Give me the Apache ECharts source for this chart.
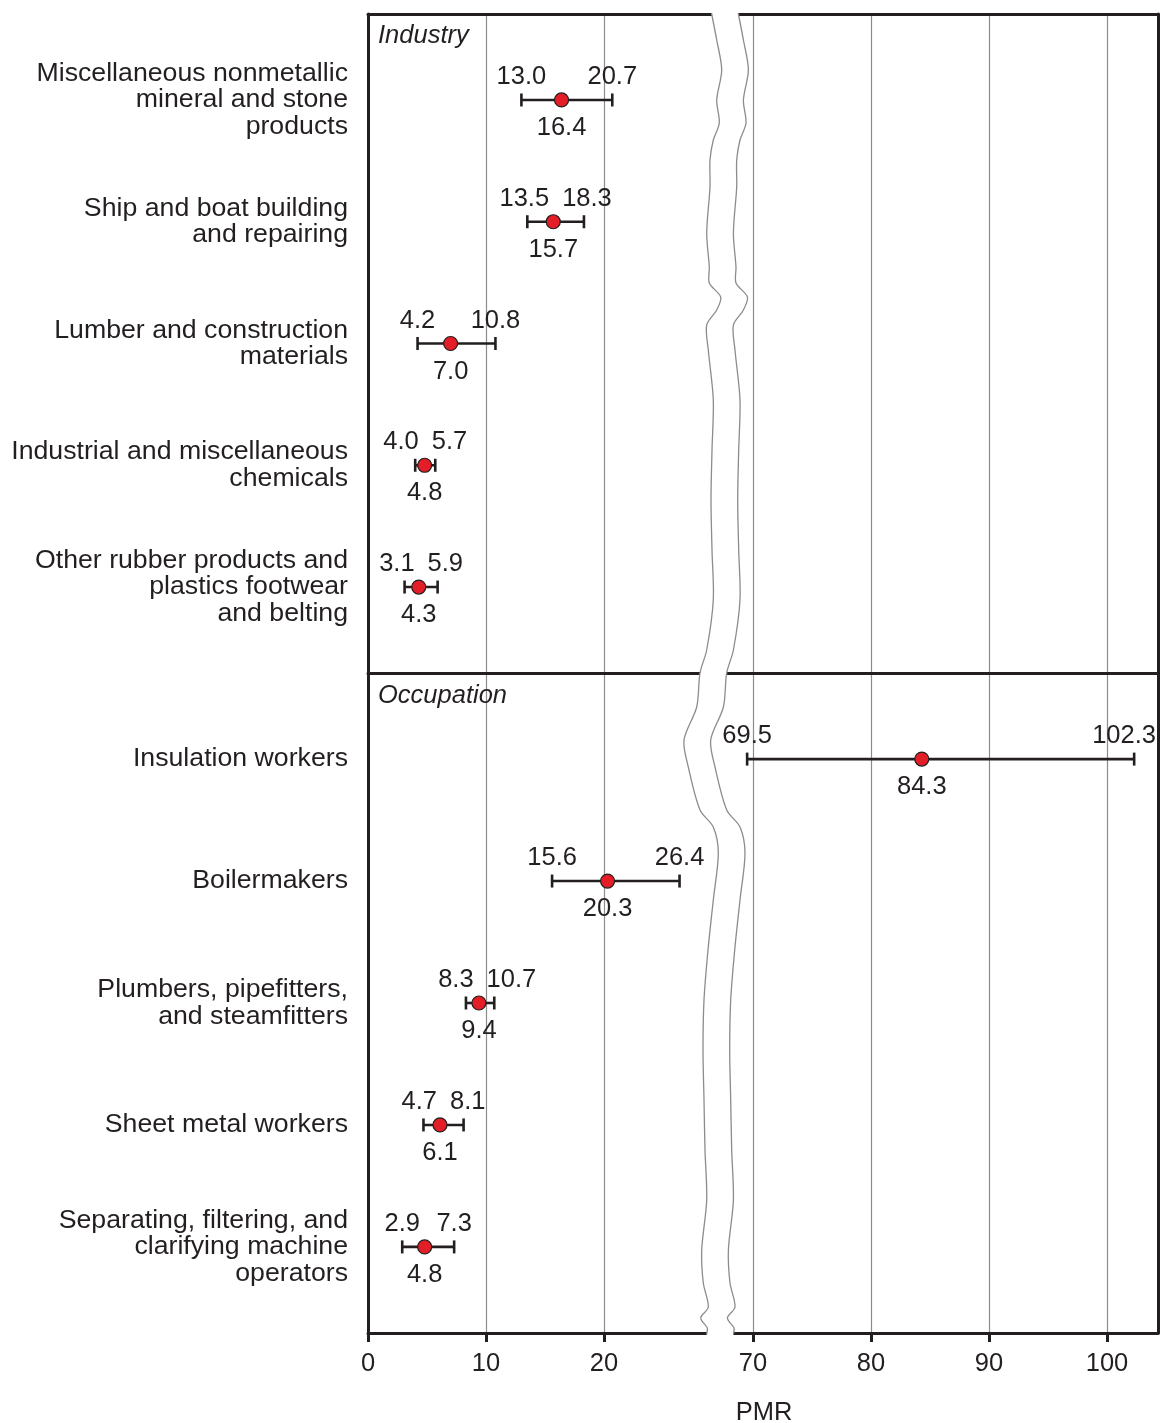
<!DOCTYPE html>
<html><head><meta charset="utf-8">
<script src="https://cdn.jsdelivr.net/npm/echarts@6/dist/echarts.min.js"></script>
<style>html,body{margin:0;padding:0;background:#fff}#chart{width:1160px;height:1423px}</style>
</head><body><div id="chart"></div>
<script>
// ---------------- data ----------------
const industryNames = [
  'Miscellaneous nonmetallic\nmineral and stone\nproducts',
  'Ship and boat building\nand repairing',
  'Lumber and construction\nmaterials',
  'Industrial and miscellaneous\nchemicals',
  'Other rubber products and\nplastics footwear\nand belting'
];
const industryPMR   = [16.4, 15.7, 7.0, 4.8, 4.3];
const industryLower = [13.0, 13.5, 4.2, 4.0, 3.1];
const industryUpper = [20.7, 18.3, 10.8, 5.7, 5.9];

const occupationNames = [
  'Insulation workers',
  'Boilermakers',
  'Plumbers, pipefitters,\nand steamfitters',
  'Sheet metal workers',
  'Separating, filtering, and\nclarifying machine\noperators'
];
const occupationPMR   = [84.3, 20.3, 9.4, 6.1, 4.8];
const occupationLower = [69.5, 15.6, 8.3, 4.7, 2.9];
const occupationUpper = [102.3, 26.4, 10.7, 8.1, 7.3];

const sectionTitles = ['Industry', 'Occupation'];
const leftTicks  = [0, 10, 20];
const rightTicks = [70, 80, 90, 100];
const axisTitle = 'PMR';

// ---------------- layout / style ----------------
const FONT = '"Liberation Sans", Arial, Helvetica, sans-serif';
const INK = '#231f20';
const RED = '#e41e26';
const LEFT_RANGE  = [0, 29.49];
const RIGHT_RANGE = [67.2, 104.32];
const ROW_RANGE   = [-0.706, 4.706];

const measureCtx = document.createElement('canvas').getContext('2d');
function textWidth(t, size) { measureCtx.font = size + 'px ' + FONT; return measureCtx.measureText(t).width; }

function makeRows(pmr, lo, hi) { return pmr.map((v, i) => [i, v, lo[i], hi[i]]); }
const industryRows = makeRows(industryPMR, industryLower, industryUpper);
const occupationRows = makeRows(occupationPMR, occupationLower, occupationUpper);

function renderCI(params, api) {
  const row = api.value(0), est = api.value(1), lo = api.value(2), hi = api.value(3);
  const cs = params.coordSys;
  const a = api.coord([lo, row]), b = api.coord([hi, row]), c = api.coord([est, row]);
  if (a[0] < cs.x - 1 || b[0] > cs.x + cs.width + 1) return {type: 'group', children: []};
  const fs = 25.5, cap = 6.5, G = 13;
  const loT = lo.toFixed(1), hiT = hi.toFixed(1), estT = est.toFixed(1);
  const wLo = textWidth(loT, fs), wHi = textWidth(hiT, fs);
  let loX = a[0], loAlign = 'center', hiX = b[0], hiAlign = 'center';
  if (a[0] + wLo / 2 + G > b[0] - wHi / 2) {
    const mid = (a[0] + b[0]) / 2;
    loX = mid - G / 2; loAlign = 'right';
    hiX = mid + G / 2; hiAlign = 'left';
  }
  const rightLimit = cs.x + cs.width - 2;
  if (hiAlign === 'center' && hiX + wHi / 2 > rightLimit) { hiX = rightLimit; hiAlign = 'right'; }
  const y = a[1];
  const ls = {stroke: INK, lineWidth: 2.6};
  const ts = (text, align) => ({text, fill: INK, fontSize: fs, fontFamily: FONT, align, verticalAlign: 'middle'});
  return {
    type: 'group',
    children: [
      {type: 'line', shape: {x1: a[0], y1: y, x2: b[0], y2: y}, style: ls},
      {type: 'line', shape: {x1: a[0], y1: y - cap, x2: a[0], y2: y + cap}, style: ls},
      {type: 'line', shape: {x1: b[0], y1: y - cap, x2: b[0], y2: y + cap}, style: ls},
      {type: 'circle', shape: {cx: c[0], cy: y, r: 7}, style: {fill: RED, stroke: INK, lineWidth: 1.2}},
      {type: 'text', x: loX, y: y - 23, style: ts(loT, loAlign)},
      {type: 'text', x: hiX, y: y - 23, style: ts(hiT, hiAlign)},
      {type: 'text', x: c[0], y: y + 28, style: ts(estT, 'center')}
    ]
  };
}

const axisLineStyle = {color: INK, width: 3};
const gridLineStyle = {color: '#8c8c8c', width: 1.2};
function xAx(gridIndex, range, ticks, position, withLabels, withSplit) {
  return {
    type: 'value', gridIndex, position, min: range[0], max: range[1],
    axisLine: {show: true, onZero: false, lineStyle: axisLineStyle},
    axisTick: {show: withLabels, customValues: ticks, length: 9, lineStyle: {color: INK, width: 3}},
    axisLabel: {show: withLabels, customValues: ticks, fontSize: 25.5, color: INK, margin: 18, fontFamily: FONT},
    splitLine: {show: withSplit, lineStyle: gridLineStyle}
  };
}
function yAx(gridIndex, position, names) {
  return {
    type: 'value', gridIndex, position, inverse: true, min: ROW_RANGE[0], max: ROW_RANGE[1],
    axisLine: {show: true, onZero: false, lineStyle: axisLineStyle},
    axisTick: {show: false},
    splitLine: {show: false},
    axisLabel: names ? {
      show: true, customValues: names.map((_, i) => i),
      formatter: v => names[Math.round(v)],
      fontSize: 26.7, lineHeight: 26.5, color: INK, margin: 20, fontFamily: FONT, align: 'right'
    } : {show: false}
  };
}
function ciSeries(xi, yi, data) {
  return {type: 'custom', xAxisIndex: xi, yAxisIndex: yi, data, renderItem: renderCI, clip: false,
          encode: {x: [1, 2, 3], y: 0}, z: 10, silent: true};
}

// ---- axis break decoration (wavy band) ----
const breakLeft = [
  [711.5,13],[716.7,40],[721.7,70],[716.7,100],[719.3,123],[713.3,140],[710,160],[710,187],
  [706.7,233],[709.3,267],[709.3,283],[720.7,297],[716.7,310],[706.7,325],[708.3,350],[713.3,400],
  [712,450],[711,500],[712,550],[713.3,600],[706.7,650],[700,673],[696.7,707],[684,740],[688.3,767],
  [700,810],[713.3,827],[718.3,853],[713.3,900],[708,950],[704,1000],[703,1050],[704,1100],[705,1150],
  [706.7,1200],[701.7,1250],[703.3,1283],[708.3,1307],[700.7,1318],[707.3,1328],[706.7,1334]
];
const BREAK_W = 26.7;
const breakRight = breakLeft.map(p => [p[0] + BREAK_W, p[1]]);
const bandPts = [[breakLeft[0][0], 10]].concat(breakLeft, [[breakLeft[breakLeft.length-1][0], 1337],
  [breakRight[breakRight.length-1][0], 1337]], breakRight.slice().reverse(), [[breakRight[0][0], 10]]);

const option = {
  animation: false,
  backgroundColor: '#fff',
  textStyle: {fontFamily: FONT},
  grid: [
    {left: 368, top: 14, width: 348, height: 659},
    {left: 720, top: 14, width: 438, height: 659},
    {left: 368, top: 673, width: 348, height: 660},
    {left: 720, top: 673, width: 438, height: 660}
  ],
  xAxis: [
    xAx(0, LEFT_RANGE, leftTicks, 'bottom', false, true),
    xAx(0, LEFT_RANGE, leftTicks, 'top', false, false),
    xAx(1, RIGHT_RANGE, rightTicks, 'bottom', false, true),
    xAx(1, RIGHT_RANGE, rightTicks, 'top', false, false),
    xAx(2, LEFT_RANGE, leftTicks, 'bottom', true, true),
    xAx(3, RIGHT_RANGE, rightTicks, 'bottom', true, true)
  ],
  yAxis: [
    yAx(0, 'left', industryNames),
    yAx(1, 'right', null),
    yAx(2, 'left', occupationNames),
    yAx(3, 'right', null)
  ],
  series: [
    ciSeries(0, 0, industryRows),
    ciSeries(2, 1, industryRows),
    ciSeries(4, 2, occupationRows),
    ciSeries(5, 3, occupationRows)
  ],
  graphic: [
    {type: 'polygon', z: 100, silent: true, shape: {points: bandPts}, style: {fill: '#fff'}},
    {type: 'polyline', z: 101, silent: true, shape: {points: breakLeft, smooth: 0.3}, style: {stroke: '#8c8c8c', lineWidth: 1.3, fill: null}},
    {type: 'polyline', z: 101, silent: true, shape: {points: breakRight, smooth: 0.3}, style: {stroke: '#8c8c8c', lineWidth: 1.3, fill: null}},
    {type: 'text', z: 102, x: 378, y: 36, style: {text: sectionTitles[0], fontSize: 25.5, fontStyle: 'italic', fontFamily: FONT, fill: INK, align: 'left', verticalAlign: 'middle'}},
    {type: 'text', z: 102, x: 378, y: 696, style: {text: sectionTitles[1], fontSize: 25.5, fontStyle: 'italic', fontFamily: FONT, fill: INK, align: 'left', verticalAlign: 'middle'}},
    {type: 'text', z: 102, x: 764, y: 1413, style: {text: axisTitle, fontSize: 25.5, fontFamily: FONT, fill: INK, align: 'center', verticalAlign: 'middle'}}
  ]
};

const chart = echarts.init(document.getElementById('chart'), null, {renderer: 'canvas'});
chart.setOption(option);
</script>
</body></html>
